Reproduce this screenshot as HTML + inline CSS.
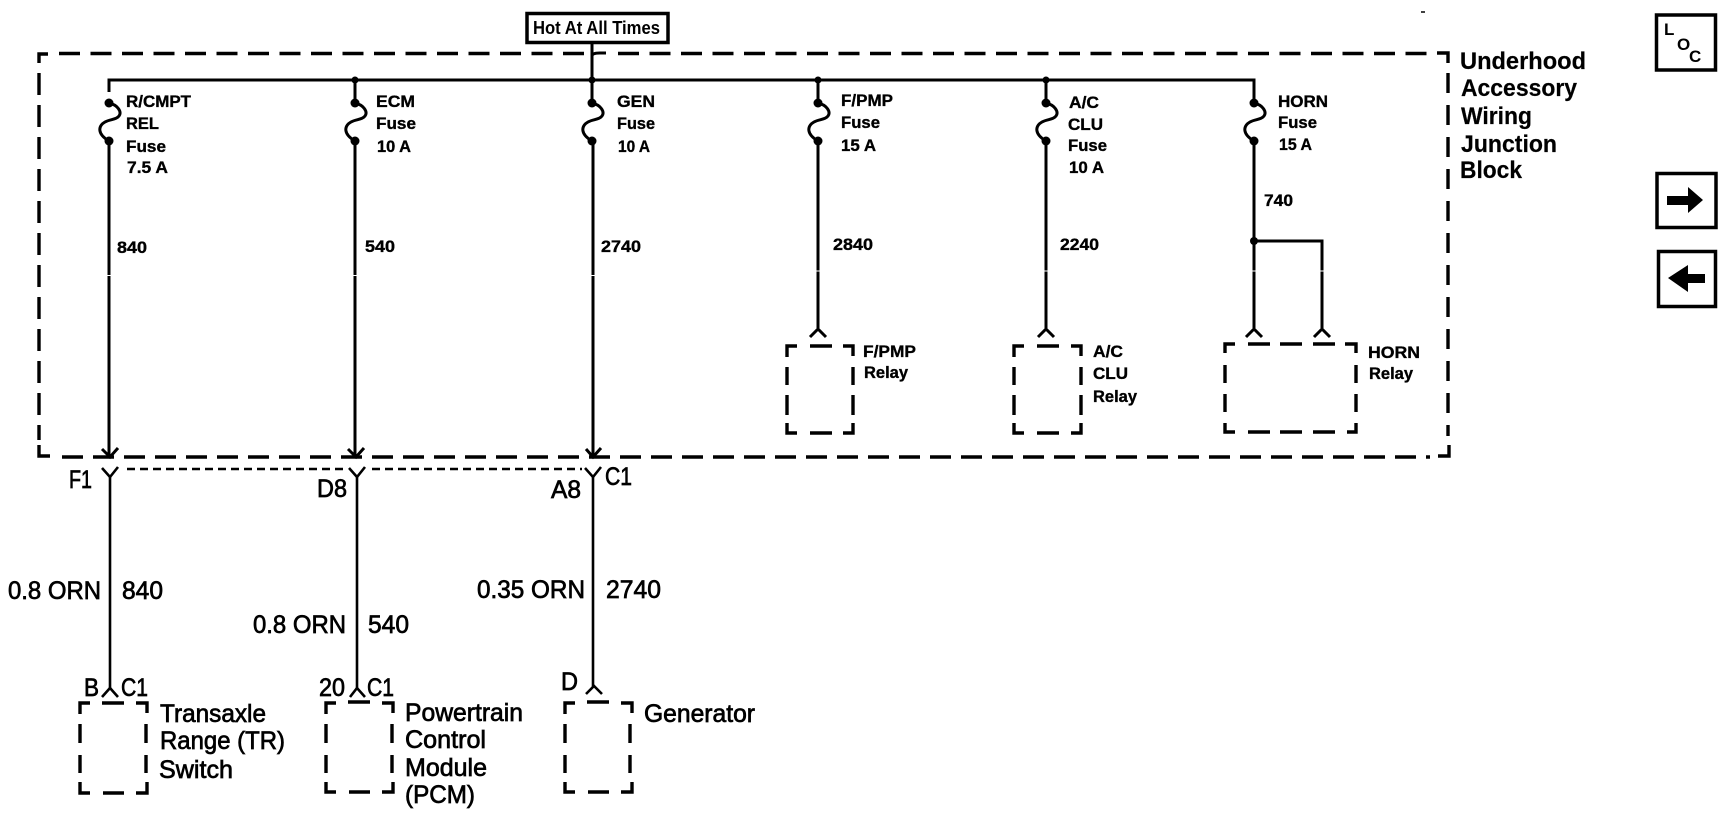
<!DOCTYPE html>
<html><head><meta charset="utf-8"><style>
html,body{margin:0;padding:0;background:#fff;width:1724px;height:832px;overflow:hidden}
svg{display:block}
text{font-family:"Liberation Sans",sans-serif;fill:#000}
.s{font-size:16.5px;font-weight:bold;stroke:#000;stroke-width:.35}
.b{font-size:25px;stroke:#000;stroke-width:.7}
.r{font-size:24px;font-weight:bold;stroke:#000;stroke-width:.2}
.w{fill:none;stroke:#000;stroke-width:3}
.t{fill:none;stroke:#000;stroke-width:2.6}
.d{fill:none;stroke:#000;stroke-width:3.4}
</style></head><body>
<svg width="1724" height="832" viewBox="0 0 1724 832" xmlns="http://www.w3.org/2000/svg">
<!-- junction block dashed outline -->
<path class="d" d="M39 63V54H48M1437 53H1448V63M39 445V456H50M1438 456H1449V445"/>
<path class="d" stroke-dasharray="21 10.5" d="M59 53.5H584"/>
<path class="d" stroke-dasharray="21 10.5" d="M618 53.5H1428"/>
<path class="d" stroke-dasharray="22 10" d="M39 73V440"/>
<path class="d" stroke-dasharray="21 10" d="M62 457H1430"/>
<path class="d" stroke-dasharray="20 12" d="M1448 73V436"/>
<!-- bus and wires -->
<path class="w" d="M109 92V80H1254V92M355 80V103M592 44V103M818 80V103M1046 80V103M1254 92V103"/>
<path class="w" d="M592 72V56Q592 53 600 53H606"/>
<path class="w" d="M109 141V456M355 141V456M593 141V456M818 141V328M1046 141V328M1254 141V328"/>
<path class="w" d="M1254 241H1322V328"/>
<g>
<circle cx="355" cy="80" r="3.5"/><circle cx="592" cy="80" r="3.5"/><circle cx="818" cy="80" r="3.5"/><circle cx="1046" cy="80" r="3.5"/><circle cx="1254" cy="241" r="4"/>
</g>
<!-- fuses -->
<g>
<path class="w" d="M109 103C118 105 122 112 119 116C116 120 110 119 105 122C98 126 97 134 109 141"/>
<path class="w" d="M355 103C364 105 368 112 365 116C362 120 356 119 351 122C344 126 343 134 355 141"/>
<path class="w" d="M592 103C601 105 605 112 602 116C599 120 593 119 588 122C581 126 580 134 592 141"/>
<path class="w" d="M818 103C827 105 831 112 828 116C825 120 819 119 814 122C807 126 806 134 818 141"/>
<path class="w" d="M1046 103C1055 105 1059 112 1056 116C1053 120 1047 119 1042 122C1035 126 1034 134 1046 141"/>
<path class="w" d="M1254 103C1263 105 1267 112 1264 116C1261 120 1255 119 1250 122C1243 126 1242 134 1254 141"/>
</g>
<g>
<circle cx="109" cy="103" r="4.5"/><circle cx="109" cy="141" r="4.5"/>
<circle cx="355" cy="103" r="4.5"/><circle cx="355" cy="141" r="4.5"/>
<circle cx="592" cy="103" r="4.5"/><circle cx="592" cy="141" r="4.5"/>
<circle cx="818" cy="103" r="4.5"/><circle cx="818" cy="141" r="4.5"/>
<circle cx="1046" cy="103" r="4.5"/><circle cx="1046" cy="141" r="4.5"/>
<circle cx="1254" cy="103" r="4.5"/><circle cx="1254" cy="141" r="4.5"/>
</g>
<!-- chevrons in block -->
<path class="w" d="M102 449L110 457L118 448M348 449L356 457L364 448M586 449L593 457L601 448"/>
<path class="w" d="M810 337L818 329L826 337M1038 337L1046 329L1054 337M1246 337L1254 329L1262 337M1314 337L1322 329L1330 337"/>
<path stroke="#fff" stroke-width="1" d="M90 275.5H610M800 271H1340"/>
<!-- lower connector -->
<path class="t" stroke-dasharray="8 5" d="M127 469H345M372 469H582"/>
<path class="t" d="M102 468L110 477L118 467M349 468L357 477L365 467M585 468L593 477L601 467"/>
<path class="t" d="M110 477V688M357 477V688M593 477V688"/>
<path class="t" d="M102 697L110 688L118 697M350 697L357 688L365 697"/>
<path class="t" d="M586 694L594 686L602 694"/>
<!-- relay boxes -->
<path class="d" d="M787 357V346H797M810 346H832M843 346H853V356M787 367V385M787 395V415M853 367V385M853 395V415M787 423V433H797M810 433H832M843 433H853V423"/>
<path class="d" d="M1014 357V346H1024M1037 346H1059M1071 346H1081V356M1014 367V385M1014 395V415M1081 367V385M1081 395V415M1014 423V433H1024M1037 433H1059M1071 433H1081V423"/>
<path class="d" d="M1225 353V344H1235M1248 344H1270M1280 344H1302M1313 344H1335M1345 344H1356V353M1225 365V383M1225 394V412M1356 365V383M1356 394V412M1225 423V432H1235M1248 432H1270M1280 432H1302M1313 432H1335M1347 432H1356V423"/>
<!-- bottom boxes -->
<path class="d" d="M80 714V703H90M102 703H124M136 703H147V713M80 724V743M80 755V773M146 724V743M146 755V773M80 782V793H90M103 793H124M136 793H147V782"/>
<path class="d" d="M326 714V703H336M348 702H370M382 703H393V713M326 724V743M326 755V773M392 724V743M392 755V773M326 782V792H336M349 792H370M382 792H393V782"/>
<path class="d" d="M565 714V703H575M587 702H609M621 703H632V713M565 724V743M565 755V773M630 724V743M630 755V773M565 782V792H575M588 792H609M621 792H632V782"/>
<!-- hot box -->
<rect x="527" y="13.5" width="141" height="29" fill="#fff" stroke="#000" stroke-width="3.5"/>
<text x="533" y="34" font-size="18" font-weight="bold" textLength="127" lengthAdjust="spacingAndGlyphs">Hot At All Times</text>
<!-- small labels -->
<text class="s" x="126" y="107" textLength="65" lengthAdjust="spacingAndGlyphs">R/CMPT</text>
<text class="s" x="126" y="129" textLength="33" lengthAdjust="spacingAndGlyphs">REL</text>
<text class="s" x="126" y="152" textLength="40" lengthAdjust="spacingAndGlyphs">Fuse</text>
<text class="s" x="127" y="173" textLength="41" lengthAdjust="spacingAndGlyphs">7.5 A</text>
<text class="s" x="376" y="107" textLength="39" lengthAdjust="spacingAndGlyphs">ECM</text>
<text class="s" x="376" y="129" textLength="40" lengthAdjust="spacingAndGlyphs">Fuse</text>
<text class="s" x="377" y="152" textLength="34" lengthAdjust="spacingAndGlyphs">10 A</text>
<text class="s" x="617" y="107" textLength="38" lengthAdjust="spacingAndGlyphs">GEN</text>
<text class="s" x="617" y="129" textLength="38" lengthAdjust="spacingAndGlyphs">Fuse</text>
<text class="s" x="618" y="152" textLength="32" lengthAdjust="spacingAndGlyphs">10 A</text>
<text class="s" x="841" y="106" textLength="52" lengthAdjust="spacingAndGlyphs">F/PMP</text>
<text class="s" x="841" y="128" textLength="39" lengthAdjust="spacingAndGlyphs">Fuse</text>
<text class="s" x="841" y="151" textLength="35" lengthAdjust="spacingAndGlyphs">15 A</text>
<text class="s" x="1069" y="108" textLength="30" lengthAdjust="spacingAndGlyphs">A/C</text>
<text class="s" x="1068" y="130" textLength="35" lengthAdjust="spacingAndGlyphs">CLU</text>
<text class="s" x="1068" y="151" textLength="39" lengthAdjust="spacingAndGlyphs">Fuse</text>
<text class="s" x="1069" y="173" textLength="35" lengthAdjust="spacingAndGlyphs">10 A</text>
<text class="s" x="1278" y="107" textLength="50" lengthAdjust="spacingAndGlyphs">HORN</text>
<text class="s" x="1278" y="128" textLength="39" lengthAdjust="spacingAndGlyphs">Fuse</text>
<text class="s" x="1279" y="150" textLength="33" lengthAdjust="spacingAndGlyphs">15 A</text>
<text class="s" x="117" y="253" textLength="30" lengthAdjust="spacingAndGlyphs">840</text>
<text class="s" x="365" y="252" textLength="30" lengthAdjust="spacingAndGlyphs">540</text>
<text class="s" x="601" y="252" textLength="40" lengthAdjust="spacingAndGlyphs">2740</text>
<text class="s" x="833" y="250" textLength="40" lengthAdjust="spacingAndGlyphs">2840</text>
<text class="s" x="1060" y="250" textLength="39" lengthAdjust="spacingAndGlyphs">2240</text>
<text class="s" x="1264" y="206" textLength="29" lengthAdjust="spacingAndGlyphs">740</text>
<text class="s" x="863" y="357" textLength="53" lengthAdjust="spacingAndGlyphs">F/PMP</text>
<text class="s" x="864" y="378" textLength="44" lengthAdjust="spacingAndGlyphs">Relay</text>
<text class="s" x="1093" y="357" textLength="30" lengthAdjust="spacingAndGlyphs">A/C</text>
<text class="s" x="1093" y="379" textLength="35" lengthAdjust="spacingAndGlyphs">CLU</text>
<text class="s" x="1093" y="402" textLength="44" lengthAdjust="spacingAndGlyphs">Relay</text>
<text class="s" x="1368" y="358" textLength="52" lengthAdjust="spacingAndGlyphs">HORN</text>
<text class="s" x="1369" y="379" textLength="44" lengthAdjust="spacingAndGlyphs">Relay</text>
<!-- block label -->
<text class="r" x="1460" y="69" textLength="126" lengthAdjust="spacingAndGlyphs">Underhood</text>
<text class="r" x="1461" y="96" textLength="116" lengthAdjust="spacingAndGlyphs">Accessory</text>
<text class="r" x="1461" y="124" textLength="71" lengthAdjust="spacingAndGlyphs">Wiring</text>
<text class="r" x="1461" y="152" textLength="96" lengthAdjust="spacingAndGlyphs">Junction</text>
<text class="r" x="1460" y="178" textLength="62" lengthAdjust="spacingAndGlyphs">Block</text>
<!-- lower labels -->
<text class="b" x="69" y="488" textLength="23" lengthAdjust="spacingAndGlyphs">F1</text>
<text class="b" x="317" y="497" textLength="30" lengthAdjust="spacingAndGlyphs">D8</text>
<text class="b" x="551" y="498" textLength="30" lengthAdjust="spacingAndGlyphs">A8</text>
<text class="b" x="605" y="485" textLength="27" lengthAdjust="spacingAndGlyphs">C1</text>
<text class="b" x="8" y="599" textLength="93" lengthAdjust="spacingAndGlyphs">0.8 ORN</text>
<text class="b" x="122" y="599" textLength="41" lengthAdjust="spacingAndGlyphs">840</text>
<text class="b" x="253" y="633" textLength="93" lengthAdjust="spacingAndGlyphs">0.8 ORN</text>
<text class="b" x="368" y="633" textLength="41" lengthAdjust="spacingAndGlyphs">540</text>
<text class="b" x="477" y="598" textLength="108" lengthAdjust="spacingAndGlyphs">0.35 ORN</text>
<text class="b" x="606" y="598" textLength="55" lengthAdjust="spacingAndGlyphs">2740</text>
<text class="b" x="84" y="696" textLength="15" lengthAdjust="spacingAndGlyphs">B</text>
<text class="b" x="121" y="696" textLength="27" lengthAdjust="spacingAndGlyphs">C1</text>
<text class="b" x="319" y="696" textLength="26" lengthAdjust="spacingAndGlyphs">20</text>
<text class="b" x="367" y="696" textLength="27" lengthAdjust="spacingAndGlyphs">C1</text>
<text class="b" x="561" y="690" textLength="17" lengthAdjust="spacingAndGlyphs">D</text>
<text class="b" x="160" y="722" textLength="106" lengthAdjust="spacingAndGlyphs">Transaxle</text>
<text class="b" x="160" y="749" textLength="125" lengthAdjust="spacingAndGlyphs">Range (TR)</text>
<text class="b" x="159" y="778" textLength="74" lengthAdjust="spacingAndGlyphs">Switch</text>
<text class="b" x="405" y="721" textLength="118" lengthAdjust="spacingAndGlyphs">Powertrain</text>
<text class="b" x="405" y="748" textLength="81" lengthAdjust="spacingAndGlyphs">Control</text>
<text class="b" x="405" y="776" textLength="82" lengthAdjust="spacingAndGlyphs">Module</text>
<text class="b" x="405" y="803" textLength="70" lengthAdjust="spacingAndGlyphs">(PCM)</text>
<text class="b" x="644" y="722" textLength="111" lengthAdjust="spacingAndGlyphs">Generator</text>
<!-- LOC box -->
<rect x="1656.5" y="15" width="59" height="55" fill="none" stroke="#000" stroke-width="3.5"/>
<text x="1664" y="35" font-size="17" font-weight="bold">L</text>
<text x="1677" y="50" font-size="17" font-weight="bold">O</text>
<text x="1689" y="62" font-size="17" font-weight="bold">C</text>
<!-- nav buttons -->
<rect x="1657" y="173.5" width="59" height="54" fill="none" stroke="#000" stroke-width="3.5"/>
<path d="M1667 196H1688V187L1703 200L1688 213V205H1667Z"/>
<rect x="1658.5" y="251.5" width="57" height="55" fill="none" stroke="#000" stroke-width="3.5"/>
<path d="M1705 274H1688V265L1668 278L1688 292V283H1705Z"/>
<path d="M1421 12H1425" stroke="#000" stroke-width="1.5"/>
</svg>
</body></html>
